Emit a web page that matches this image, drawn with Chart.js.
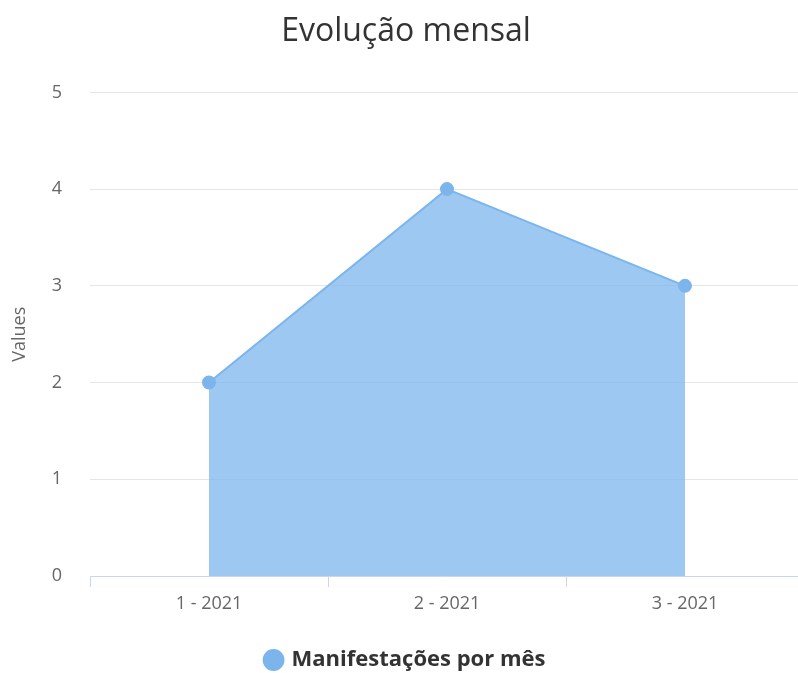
<!DOCTYPE html>
<html>
<head>
<meta charset="utf-8">
<script src="https://cdn.jsdelivr.net/npm/chart.js@4"></script>
<style>
  html, body { margin: 0; padding: 0; background: #fff; overflow: hidden; }
  #wrap { width: 812px; height: 673px; }
</style>
</head>
<body>
<div id="wrap"><canvas id="evolucao-chart" width="812" height="673"></canvas></div>
<script>
const meses = ["1 - 2021", "2 - 2021", "3 - 2021"];
const manifestacoes = [2, 4, 3];
const yTicks = [0, 1, 2, 3, 4, 5];

const fontFamily = "'Open Sans', 'Noto Sans', sans-serif";

const ctx = document.getElementById("evolucao-chart").getContext("2d");

const chart = new Chart(ctx, {
  type: "line",
  data: {
    labels: meses,
    datasets: [
      {
        label: "Manifestações por mês",
        data: manifestacoes,
        borderColor: "#7cb5ec",
        backgroundColor: "rgba(124, 181, 236, 0.75)",
        borderWidth: 2,
        pointBackgroundColor: "#7cb5ec",
        pointBorderColor: "#7cb5ec",
        pointRadius: 6,
        tension: 0,
        fill: "origin",
      },
    ],
  },
  options: {
    responsive: false,
    animation: false,
    layout: {
      padding: { left: 0, right: 0, top: 0, bottom: -8 },
    },
    plugins: {
      title: {
        display: true,
        text: "Evolução mensal",
        color: "#333333",
        font: { family: fontFamily, size: 32, weight: "normal" },
        padding: { top: 13, bottom: 41 },
      },
      legend: {
        display: true,
        position: "bottom",
        labels: {
          usePointStyle: true,
          pointStyle: "circle",
          boxWidth: 14,
          boxHeight: 14,
          padding: 14,
          color: "#333333",
          font: { family: fontFamily, size: 22, weight: "bold" },
        },
      },
      tooltip: { enabled: false },
    },
    scales: {
      x: {
        offset: true,
        afterFit: (axis) => {
          axis.height = 59; // espaço até a legenda
        },
        grid: {
          offset: true,
          drawOnChartArea: false,
          drawTicks: true,
          tickLength: 11,
          color: "#ccd6eb",
        },
        border: { display: true, color: "#ccd6eb", width: 1 },
        ticks: {
          color: "#666666",
          padding: 6,
          font: { family: fontFamily, size: 18 },
        },
      },
      y: {
        min: 0,
        max: 5,
        afterBuildTicks: (axis) => {
          axis.ticks = yTicks.map((v) => ({ value: v }));
        },
        afterFit: (axis) => {
          axis.width = 90;
        },
        grid: {
          color: "#e6e6e6",
          drawTicks: false,
        },
        border: { display: false },
        ticks: {
          color: "#666666",
          padding: 28,
          font: { family: fontFamily, size: 18 },
        },
        title: {
          display: true,
          text: "Values",
          color: "#666666",
          font: { family: fontFamily, size: 18 },
          padding: { top: 9, bottom: 0 },
        },
      },
    },
  },
});
</script>
</body>
</html>
